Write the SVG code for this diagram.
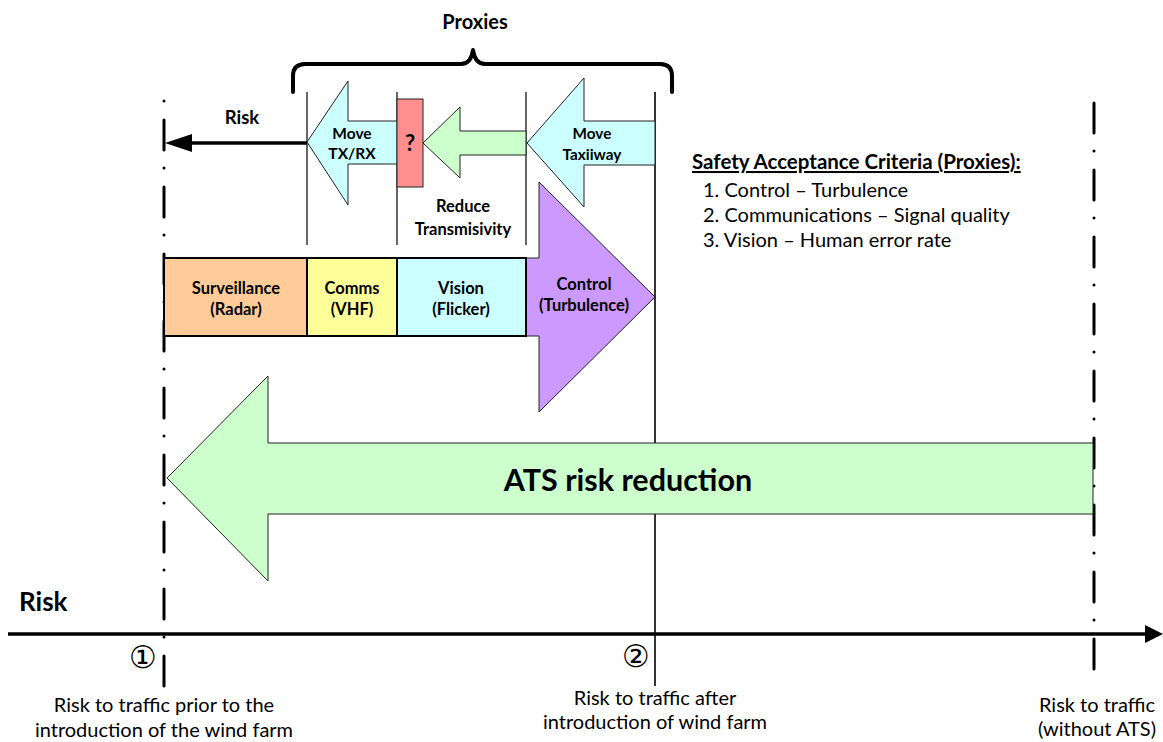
<svg xmlns="http://www.w3.org/2000/svg" width="1163" height="742" viewBox="0 0 1163 742">
<defs>
<style>
.t{font-family:Lato,"Liberation Sans",sans-serif;fill:#000}
.b{font-weight:bold}
.c{text-anchor:middle}
.shape{stroke:#222;stroke-width:1}
.thin{stroke:#000;stroke-width:1.2;fill:none}
.dd{stroke:#000;stroke-width:3;stroke-linecap:round;fill:none}
.circ{font-family:"DejaVu Sans","Noto Sans CJK JP",sans-serif;fill:#000;text-anchor:middle}
</style>
</defs>
<rect width="1163" height="742" fill="#fff"/>

<g id="connectors">
<line x1="164" y1="101" x2="164" y2="686" class="dd" stroke-dasharray="0.01 19 30 18"/>
<line x1="1094" y1="103" x2="1094" y2="686" class="dd" stroke-dasharray="30 18 0.01 19"/>
<line x1="655" y1="92" x2="655" y2="686" stroke="#000" stroke-width="1.6"/>
<line x1="307" y1="92" x2="307" y2="245" class="thin"/>
<line x1="397" y1="92" x2="397" y2="245" class="thin"/>
<line x1="526" y1="92" x2="526" y2="245" class="thin"/>
<path d="M293,92 V76 Q293,64 305,64 H461 Q471,64 473,50 Q475,64 485,64 H660 Q672,64 672,76 V92" fill="none" stroke="#000" stroke-width="4" stroke-linecap="round" stroke-linejoin="round"/>
<line x1="188" y1="143" x2="307" y2="143" stroke="#000" stroke-width="3.5"/>
<polygon points="165,143 192,134 192,152" fill="#000"/>
<line x1="8" y1="634" x2="1148" y2="634" stroke="#000" stroke-width="3.5"/>
<polygon points="1163,634 1145,625 1145,643" fill="#000"/>
</g>

<g id="ats-arrow">
<polygon class="shape" points="167,478 268,376 268,443 1093,443 1093,514 268,514 268,581" fill="#CCFFCC"/>
<text class="t b c" x="628" y="491" font-size="30.5">ATS risk reduction</text>
</g>

<g id="control">
<polygon class="shape" points="526,258 539,258 539,182 655,297 539,412 539,336 526,336" fill="#CC99FF"/>
<text class="t b c" x="584" y="290" font-size="16.5">Control</text>
<text class="t b c" x="584" y="311" font-size="16.5">(Turbulence)</text>
</g>

<g id="surveillance">
<rect x="164" y="258" width="143" height="78" fill="#FFCC99" stroke="#000" stroke-width="2"/>
<text class="t b c" x="236" y="294" font-size="16.5">Surveillance</text>
<text class="t b c" x="236" y="315" font-size="16.5">(Radar)</text>
</g>
<g id="comms">
<rect x="307" y="258" width="90" height="78" fill="#FFFF99" stroke="#000" stroke-width="2"/>
<text class="t b c" x="352" y="294" font-size="16.5">Comms</text>
<text class="t b c" x="352" y="315" font-size="16.5">(VHF)</text>
</g>
<g id="vision">
<rect x="397" y="258" width="129" height="78" fill="#CCFFFF" stroke="#000" stroke-width="2"/>
<text class="t b c" x="461" y="294" font-size="16.5">Vision</text>
<text class="t b c" x="461" y="315" font-size="16.5">(Flicker)</text>
</g>

<g id="move-txrx">
<polygon class="shape" points="307,142 348,81 348,121 397,121 397,164 348,164 348,205" fill="#CCFFFF"/>
<text class="t b c" x="352" y="139" font-size="15.5">Move</text>
<text class="t b c" x="352" y="159" font-size="15.5">TX/RX</text>
</g>

<g id="reduce-transmissivity">
<polygon class="shape" points="423,143 460,107 460,131 526,131 526,155 460,155 460,178" fill="#CCFFCC"/>
<text class="t b c" x="463" y="212" font-size="16.5">Reduce</text>
<text class="t b c" x="463" y="235" font-size="16.5">Transmisivity</text>
</g>

<g id="unknown">
<rect x="397" y="99" width="26" height="88" fill="#FF8F8F" stroke="#222" stroke-width="1"/>
<text class="t b c" x="410" y="151" font-size="22" fill="#3a0a0a">?</text>
</g>

<g id="move-taxiway">
<polygon class="shape" points="527,143 584,78 584,121 655,121 655,165 584,165 584,207" fill="#CCFFFF"/>
<text class="t b c" x="592" y="139" font-size="15.3">Move</text>
<text class="t b c" x="592" y="160" font-size="15.3">Taxiiway</text>
</g>

<g id="labels">
<text class="t b c" x="475" y="29" font-size="20">Proxies</text>
<text class="t b c" x="242" y="124" font-size="18.5">Risk</text>
<text class="t b" x="19" y="611" font-size="26">Risk</text>
<text class="circ" x="143" y="668" font-size="31">①</text>
<text class="circ" x="636" y="667" font-size="31">②</text>
<text class="t c" x="164" y="712" font-size="20">Risk to traffic prior to the</text>
<text class="t c" x="164" y="737" font-size="20">introduction of the wind farm</text>
<text class="t c" x="655" y="705" font-size="20">Risk to traffic after</text>
<text class="t c" x="655" y="729" font-size="20">introduction of wind farm</text>
<text class="t c" x="1097" y="712" font-size="20">Risk to traffic</text>
<text class="t c" x="1097" y="736" font-size="20">(without ATS)</text>
</g>

<g id="criteria">
<text class="t b" x="692" y="169" font-size="20.5" text-decoration="underline">Safety Acceptance Criteria (Proxies):</text>
<text class="t" x="703" y="197" font-size="20">1. Control – Turbulence</text>
<text class="t" x="703" y="222" font-size="20">2. Communications – Signal quality</text>
<text class="t" x="703" y="247" font-size="20">3. Vision – Human error rate</text>
</g>
</svg>
